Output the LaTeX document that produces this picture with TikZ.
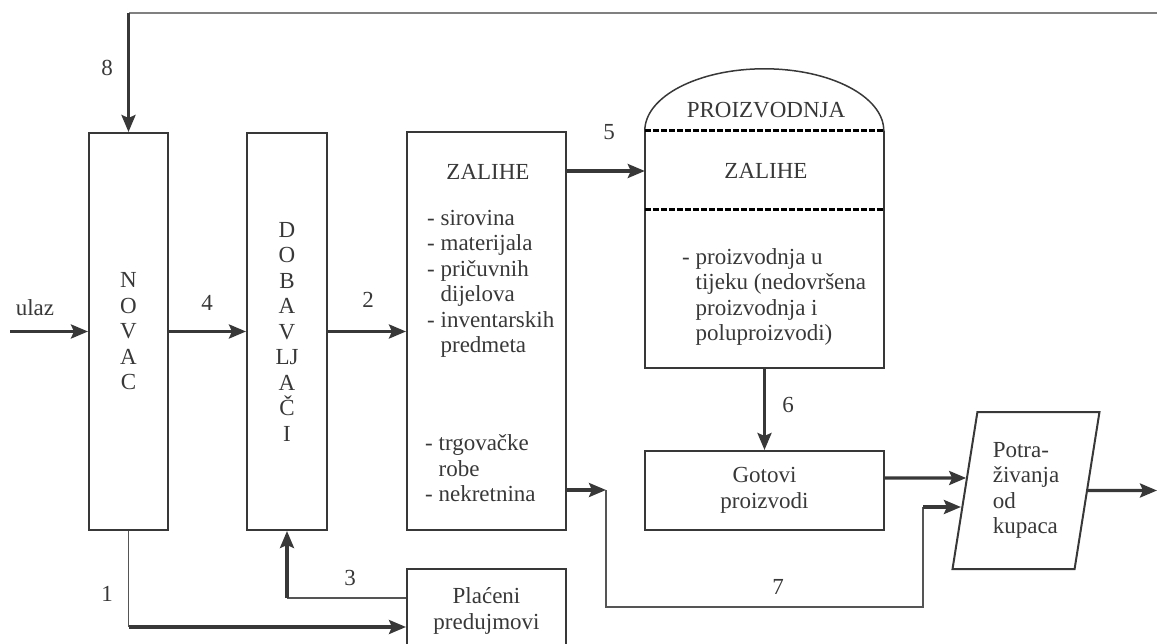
\documentclass[tikz,border=0pt]{standalone}
\usepackage{fontspec}
\setmainfont{Liberation Serif}
\usepackage{tikz}
\usetikzlibrary{arrows.meta, shapes.geometric}

\definecolor{ink}{HTML}{383838}
\definecolor{wirec}{HTML}{555555}
\definecolor{topc}{HTML}{808080}

\begin{document}
\begin{tikzpicture}[x=1pt, y=-1pt,
    every node/.style={text=ink, font=\fontsize{23pt}{25.5pt}\selectfont, inner sep=0pt},
    box/.style={draw=ink, line width=2pt},
    arr/.style={draw=ink, line width=3.2pt, -{Stealth[length=17pt, width=14pt, inset=3pt]}},
    wire/.style={draw=wirec, line width=1.8pt},
    topline/.style={draw=topc, line width=2.2pt}]
    \useasboundingbox (0,0) rectangle (1157,644);
    \clip (0,0) rectangle (1157,644);

    % boxes
    \node[box, minimum width=79pt, minimum height=397pt, align=center] (novac) at (128.5,331.5) {N\\O\\V\\A\\C};
    \node[box, minimum width=80pt, minimum height=397pt, align=center] (dobav) at (287,331.5) {D\\O\\B\\A\\V\\LJ\\A\\Č\\I};
    \node[box, minimum width=159pt, minimum height=398pt] (zalihe) at (486.5,331) {};
    \node[minimum width=239pt, minimum height=237pt] (proiz) at (764.5,249.5) {};
    \node[box, minimum width=239pt, minimum height=79pt, align=center] (gotovi) at (764.5,490.5) {Gotovi\\proizvodi};
    \node[box, minimum width=159pt, minimum height=84pt, align=center] (placeni) at (486.5,611) {Plaćeni\\predujmovi};
    \node[box, trapezium, trapezium left angle=80, trapezium right angle=100,
          trapezium stretches=true, minimum width=148pt, minimum height=157pt,
          align=left] (potr) at (1026,490.5) {Potra-\\živanja\\od\\kupaca};

    % production: walls, dome, dashed limits
    \draw[ink, line width=2pt] (proiz.north west) -- (proiz.south west)
      -- (proiz.south east) -- (proiz.north east);
    \draw[ink, line width=1.5pt] (proiz.north west)
      arc[start angle=180, end angle=0, x radius=119.5pt, y radius=62pt];
    \draw[black, line width=2.6pt, dash pattern=on 6pt off 2pt]
      (proiz.north west) -- (proiz.north east);
    \draw[black, line width=2.6pt, dash pattern=on 6pt off 2pt]
      ([yshift=-79pt]proiz.north west) -- ([yshift=-79pt]proiz.north east);

    % texts in the boxes
    \node (zname) at (488,172) {ZALIHE};
    \node[anchor=west, align=left] (zlist) at (427,284)
      {- sirovina\\- materijala\\- pričuvnih\\\hphantom{- }dijelova\\- inventarskih\\\hphantom{- }predmeta};
    \node[anchor=west, align=left] (zlist2) at (425,468.5)
      {- trgovačke\\\hphantom{- }robe\\- nekretnina};
    \node (pname) at (766,110) {PROIZVODNJA};
    \node (pzal) at (766,171) {ZALIHE};
    \node[anchor=west, align=left] (ptext) at (682,297)
      {- proizvodnja u\\\hphantom{- }tijeku (nedovršena\\\hphantom{- }proizvodnja i\\\hphantom{- }poluproizvodi)};

    % labels
    \node (l8) at (107,68) {8};
    \node (lulaz) at (35,308) {ulaz};
    \node (l4) at (207,303) {4};
    \node (l2) at (368,300) {2};
    \node (l5) at (609,132) {5};
    \node (l6) at (788,405) {6};
    \node (l7) at (778,587) {7};
    \node (l3) at (350,578) {3};
    \node (l1) at (107,594) {1};

    % free ends and corners
    \coordinate (in) at (10,331.5);
    \coordinate (out) at (1157,490.5);
    \coordinate (top) at (1157,13);
    \coordinate (k7) at (606,490);
    \coordinate (c7) at (923,607);
    \coordinate (t7) at ([shift={(-3pt,-16.5pt)}]potr.west);
    \coordinate (p1) at ([yshift=-16pt]placeni.west);

    % flows
    \draw[arr] (in) -- (novac);
    \draw[arr] (novac) -- (dobav);
    \draw[arr] (dobav.east) -- (dobav.east -| zalihe.west);
    \draw[arr] (zalihe.east |- pzal) -- (proiz.west |- pzal);
    \draw[arr] (proiz.south) -- (gotovi.north);
    \draw[arr] ([yshift=12.5pt]gotovi.east) -- ([shift={(2.2pt,12.5pt)}]potr.west);
    \draw[arr] (potr.east) -- (out);

    % 7
    \draw[arr] (zalihe.east |- k7) -- (k7);
    \draw[wire] (k7) |- (c7) -- (c7 |- t7);
    \draw[arr] (c7 |- t7) -- (t7);

    % 3
    \draw[wire] ([yshift=13pt]placeni.west) -- ([yshift=13pt]placeni.west -| dobav.south) coordinate (c3);
    \draw[arr] (c3) -- (dobav.south);

    % 1
    \draw[wire] (novac.south) -- (novac.south |- p1) coordinate (c1);
    \draw[arr] (c1) -- (p1);

    % 8
    \draw[topline] (top) -- (top -| novac.north) coordinate (c8);
    \draw[arr] (c8) -- (novac.north);
\end{tikzpicture}
\end{document}
